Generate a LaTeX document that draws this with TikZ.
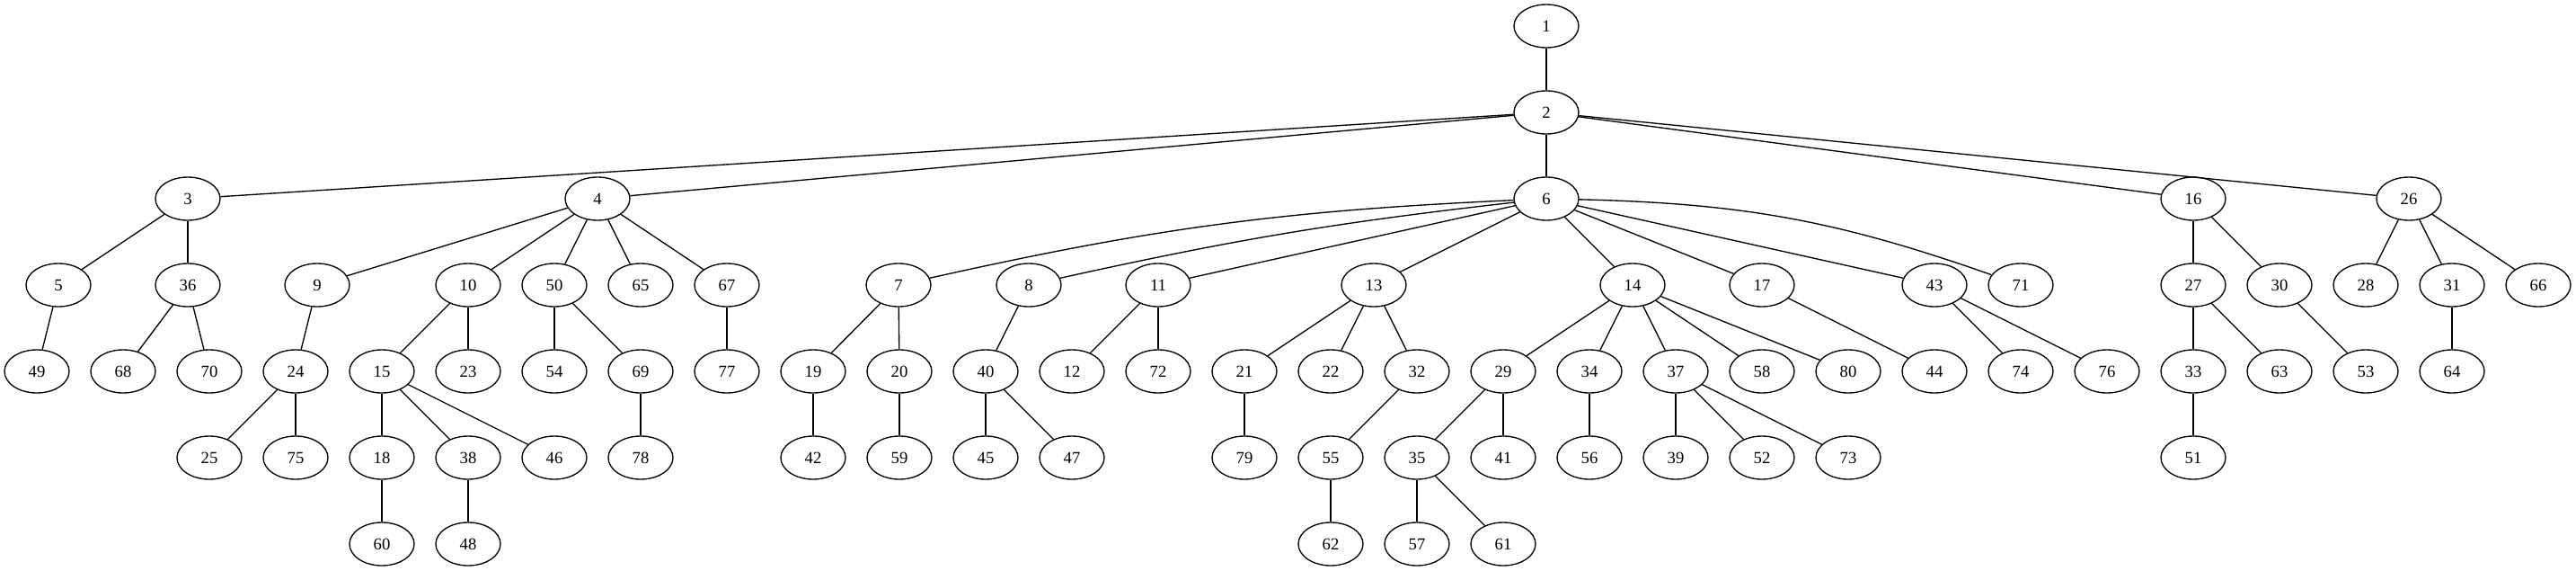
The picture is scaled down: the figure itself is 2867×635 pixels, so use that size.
\documentclass[tikz,border=0pt]{standalone}
\usepackage{fontspec}
\setmainfont{Liberation Serif}
\usetikzlibrary{shapes.geometric}
\begin{document}
\begin{tikzpicture}[x=0.75pt,y=-0.75pt,
  v/.style={draw,ellipse,line width=1pt,minimum width=54pt,minimum height=36pt,inner sep=0pt,font=\fontsize{14pt}{16pt}\selectfont},
  e/.style={draw,line width=1pt}]
\useasboundingbox (0,0) rectangle (2867,635);
% level 0-2
\node[v] (n1) at (1721,29) {1};
\node[v] (n2) at (1721,125) {2};
\node[v] (n3) at (209,221) {3};
\node[v] (n4) at (665,221) {4};
\node[v] (n6) at (1721,221) {6};
\node[v] (n16) at (2441,221) {16};
\node[v] (n26) at (2681,221) {26};
% level 3
\node[v] (n5) at (65,317) {5};
\node[v] (n36) at (209,317) {36};
\node[v] (n9) at (353,317) {9};
\node[v] (n10) at (521,317) {10};
\node[v] (n50) at (617,317) {50};
\node[v] (n65) at (713,317) {65};
\node[v] (n67) at (809,317) {67};
\node[v] (n7) at (1000,317) {7};
\node[v] (n8) at (1145,317) {8};
\node[v] (n11) at (1289,317) {11};
\node[v] (n13) at (1529,317) {13};
\node[v] (n14) at (1817,317) {14};
\node[v] (n17) at (1961,317) {17};
\node[v] (n43) at (2153,317) {43};
\node[v] (n71) at (2249,317) {71};
\node[v] (n27) at (2441,317) {27};
\node[v] (n30) at (2537,317) {30};
\node[v] (n28) at (2633,317) {28};
\node[v] (n31) at (2729,317) {31};
\node[v] (n66) at (2825,317) {66};
% level 4
\node[v] (n49) at (41,413) {49};
\node[v] (n68) at (137,413) {68};
\node[v] (n70) at (233,413) {70};
\node[v] (n24) at (329,413) {24};
\node[v] (n15) at (425,413) {15};
\node[v] (n23) at (521,413) {23};
\node[v] (n54) at (617,413) {54};
\node[v] (n69) at (713,413) {69};
\node[v] (n77) at (809,413) {77};
\node[v] (n19) at (905,413) {19};
\node[v] (n20) at (1001,413) {20};
\node[v] (n40) at (1097,413) {40};
\node[v] (n12) at (1193,413) {12};
\node[v] (n72) at (1289,413) {72};
\node[v] (n21) at (1385,413) {21};
\node[v] (n22) at (1481,413) {22};
\node[v] (n32) at (1577,413) {32};
\node[v] (n29) at (1673,413) {29};
\node[v] (n34) at (1769,413) {34};
\node[v] (n37) at (1865,413) {37};
\node[v] (n58) at (1961,413) {58};
\node[v] (n80) at (2057,413) {80};
\node[v] (n44) at (2153,413) {44};
\node[v] (n74) at (2249,413) {74};
\node[v] (n76) at (2345,413) {76};
\node[v] (n33) at (2441,413) {33};
\node[v] (n63) at (2537,413) {63};
\node[v] (n53) at (2633,413) {53};
\node[v] (n64) at (2729,413) {64};
% level 5
\node[v] (n25) at (233,509) {25};
\node[v] (n75) at (329,509) {75};
\node[v] (n18) at (425,509) {18};
\node[v] (n38) at (521,509) {38};
\node[v] (n46) at (617,509) {46};
\node[v] (n78) at (713,509) {78};
\node[v] (n42) at (905,509) {42};
\node[v] (n59) at (1001,509) {59};
\node[v] (n45) at (1097,509) {45};
\node[v] (n47) at (1193,509) {47};
\node[v] (n79) at (1385,509) {79};
\node[v] (n55) at (1481,509) {55};
\node[v] (n35) at (1577,509) {35};
\node[v] (n41) at (1673,509) {41};
\node[v] (n56) at (1769,509) {56};
\node[v] (n39) at (1865,509) {39};
\node[v] (n52) at (1961,509) {52};
\node[v] (n73) at (2057,509) {73};
\node[v] (n51) at (2441,509) {51};
% level 6
\node[v] (n60) at (425,605) {60};
\node[v] (n48) at (521,605) {48};
\node[v] (n62) at (1481,605) {62};
\node[v] (n57) at (1577,605) {57};
\node[v] (n61) at (1673,605) {61};
% edges
\foreach \a/\b in {1/2,2/3,2/4,2/6,2/16,2/26,
  3/5,3/36,5/49,36/68,36/70,
  4/9,4/10,4/50,4/65,4/67,
  9/24,24/25,24/75,10/15,10/23,15/18,15/38,15/46,18/60,38/48,50/54,50/69,69/78,67/77,
  6/11,6/13,6/14,6/17,6/43,
  7/19,7/20,19/42,20/59,8/40,40/45,40/47,11/12,11/72,
  13/21,13/22,13/32,21/79,32/55,55/62,
  14/29,14/34,14/37,14/58,14/80,29/35,29/41,35/57,35/61,34/56,37/39,37/52,37/73,
  17/44,43/74,43/76,
  16/27,16/30,27/33,27/63,33/51,30/53,
  26/28,26/31,26/66,31/64}
  \draw[e] (n\a) -- (n\b);
\draw[e] (n6) to[bend right=5] (n7);
\draw[e] (n6) to[bend right=3] (n8);
\draw[e] (n6) to[bend left=9] (n71);
\end{tikzpicture}
\end{document}
